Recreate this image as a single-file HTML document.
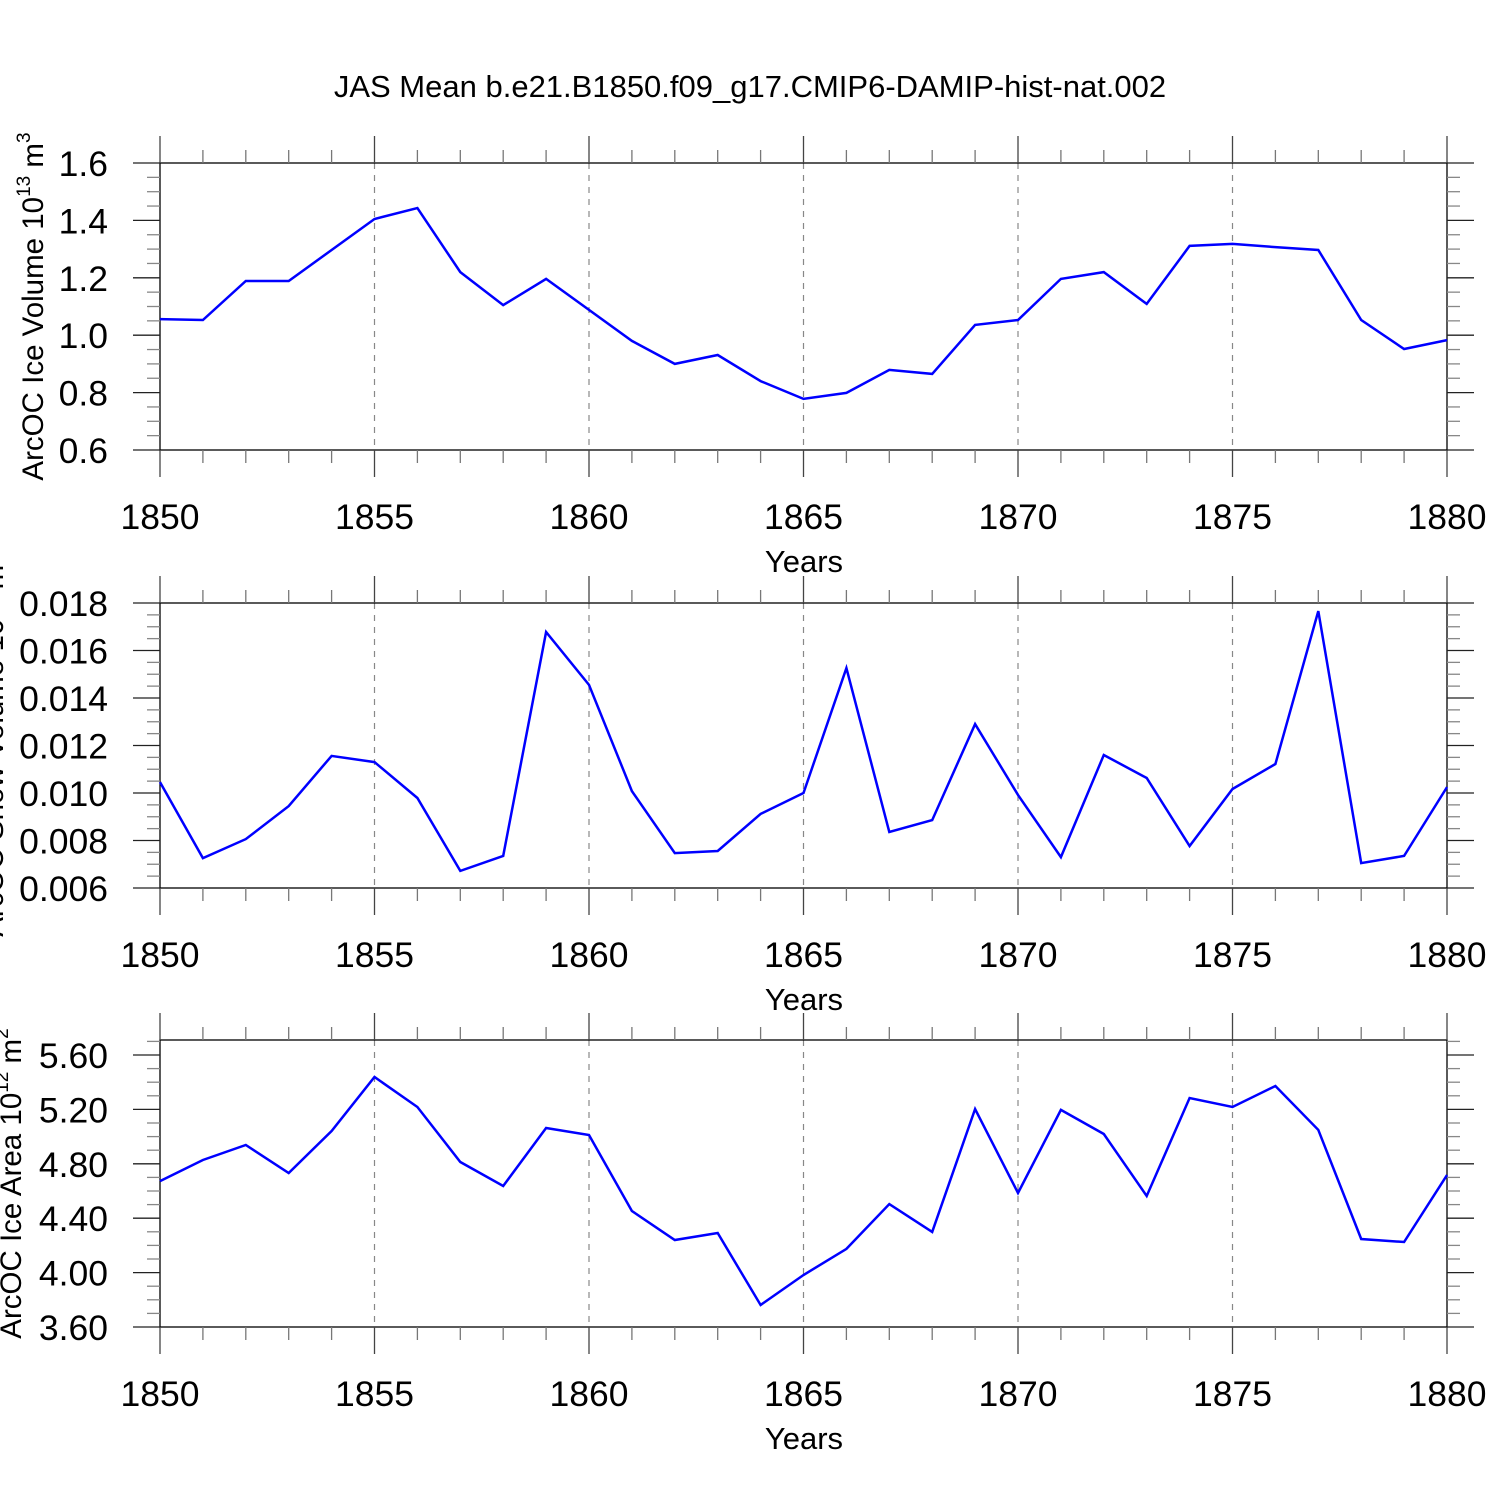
<!DOCTYPE html>
<html><head><meta charset="utf-8"><style>
html,body{margin:0;padding:0;background:#fff;}
svg{display:block;font-family:"Liberation Sans",sans-serif;}
</style></head><body>
<svg id="chart" width="1500" height="1500" xmlns="http://www.w3.org/2000/svg">
<text x="750" y="97" font-size="31" text-anchor="middle">JAS Mean b.e21.B1850.f09_g17.CMIP6-DAMIP-hist-nat.002</text>
</svg>
<script>
const years = [1850,1851,1852,1853,1854,1855,1856,1857,1858,1859,1860,1861,1862,1863,1864,1865,1866,1867,1868,1869,1870,1871,1872,1873,1874,1875,1876,1877,1878,1879,1880];
const iceVolume = [1.056,1.053,1.189,1.189,1.297,1.405,1.443,1.22,1.105,1.196,1.088,0.98,0.9,0.931,0.84,0.778,0.799,0.879,0.865,1.036,1.053,1.196,1.22,1.109,1.311,1.318,1.307,1.297,1.053,0.952,0.983];
const snowVolume = [0.01046,0.00726,0.00806,0.00945,0.01156,0.0113,0.00979,0.00672,0.00735,0.01678,0.01455,0.01008,0.00747,0.00756,0.00912,0.01,0.01526,0.00836,0.00886,0.0129,0.00992,0.0073,0.0116,0.01063,0.00777,0.01017,0.01122,0.01766,0.00705,0.00735,0.01025];
const iceArea = [4.673,4.828,4.938,4.732,5.041,5.438,5.218,4.813,4.637,5.063,5.012,4.453,4.24,4.291,3.762,3.982,4.174,4.504,4.299,5.203,4.585,5.196,5.019,4.563,5.284,5.218,5.372,5.049,4.247,4.225,4.717];
const xTickLabels = ["1850","1855","1860","1865","1870","1875","1880"];
const yTicks1 = ["0.6","0.8","1.0","1.2","1.4","1.6"];
const yTicks2 = ["0.006","0.008","0.010","0.012","0.014","0.016","0.018"];
const yTicks3 = ["3.60","4.00","4.40","4.80","5.20","5.60"];

const NS="http://www.w3.org/2000/svg";
const svg=document.getElementById('chart');
const X0=160,X1=1447;
function xs(v){return X0+(v-1850)/30*(X1-X0);}
function mk(tag,attrs,parent){const e=document.createElementNS(NS,tag);for(const k in attrs)e.setAttribute(k,attrs[k]);(parent||svg).appendChild(e);return e;}

const panels=[
 {id:'ice-volume',data:iceVolume,ticks:yTicks1,yMin:0.6,yMax:1.6,yTop:163,yBot:450,yTickBase:0.6,yTickMaj:0.2,minor:0.05,title:'ArcOC Ice Volume 10',sup:'13',unit:' m',usup:'3',tx:43},
 {id:'snow-volume',data:snowVolume,ticks:yTicks2,yMin:0.006,yMax:0.018,yTop:603,yBot:888,yTickBase:0.006,yTickMaj:0.002,minor:0.0005,title:'ArcOC Snow Volume 10',sup:'13',unit:' m',usup:'3',tx:3},
 {id:'ice-area',data:iceArea,ticks:yTicks3,yMin:3.6,yMax:3.6+(1327-1040)/54.4*0.4,yTop:1040,yBot:1327,yTickBase:3.6,yTickMaj:0.4,minor:0.1,title:'ArcOC Ice Area 10',sup:'12',unit:' m',usup:'2',tx:21}
];

panels.forEach(p=>{
 const g=mk('g',{});
 
 
 const ys=v=>p.yBot-(v-p.yMin)/(p.yMax-p.yMin)*(p.yBot-p.yTop);
 for(let yr=1855;yr<1880;yr+=5){
  const l=mk('line',{x1:xs(yr),x2:xs(yr),y1:p.yTop,y2:p.yBot,stroke:'#888','stroke-width':1.2,'stroke-dasharray':'6,6'},g);
  
  
 }
 const fr=mk('rect',{x:X0,y:p.yTop,width:X1-X0,height:p.yBot-p.yTop,fill:'none',stroke:'#000','stroke-width':1.3},g);
 
 
 for(let yr=1850;yr<=1880;yr++){
  const maj=yr%5===0, L=maj?27:13, x=xs(yr);
  mk('line',{x1:x,x2:x,y1:p.yTop-L,y2:p.yTop,stroke:maj?'#444':'#777','stroke-width':1.3},g);
  mk('line',{x1:x,x2:x,y1:p.yBot,y2:p.yBot+L,stroke:maj?'#444':'#777','stroke-width':1.3},g);
 }
 xTickLabels.forEach(t=>{
  const e=mk('text',{x:xs(+t),y:p.yBot+79,'font-size':35.5,'text-anchor':'middle'},g);
  e.textContent=t;
  
  
 });
 const xt=mk('text',{x:804,y:p.yBot+122,'font-size':31,'text-anchor':'middle'},g);
 xt.textContent='Years';
 
 
 const n=Math.round((p.yMax-p.yMin)/p.minor+1e-6);
 for(let i=0;i<=n;i++){
  const v=p.yMin+i*p.minor; const y=ys(v);
  const r=Math.round((v-p.yTickBase)/p.yTickMaj*1e6)/1e6;
  const maj=Math.abs(r-Math.round(r))<1e-4; const L=maj?27:13;
  mk('line',{x1:X0-L,x2:X0,y1:y,y2:y,stroke:maj?'#222':'#888','stroke-width':1.3},g);
  mk('line',{x1:X1,x2:X1+L,y1:y,y2:y,stroke:maj?'#222':'#888','stroke-width':1.3},g);
 }
 p.ticks.forEach(t=>{
  const e=mk('text',{x:108,y:ys(+t)+13,'font-size':35.5,'text-anchor':'end'},g);
  e.textContent=t;
  
  
 });
 const cy=(p.yTop+p.yBot)/2;
 const yt=mk('text',{x:p.tx,y:cy,'font-size':29.5,'text-anchor':'middle',transform:`rotate(-90 ${p.tx} ${cy})`},g);
 
 
 yt.appendChild(document.createTextNode(p.title));
 const s1=mk('tspan',{'font-size':19,dy:-13},yt);s1.textContent=p.sup;
 const s2=mk('tspan',{dy:13},yt);s2.textContent=p.unit;
 const s3=mk('tspan',{'font-size':19,dy:-13},yt);s3.textContent=p.usup;
 const pts=p.data.map((v,i)=>xs(years[i]).toFixed(1)+','+ys(v).toFixed(1)).join(' ');
 const pl=mk('polyline',{points:pts,fill:'none',stroke:'#0000ff','stroke-width':2.5,'stroke-linejoin':'miter'},g);
 
 
});
</script>
</body></html>
